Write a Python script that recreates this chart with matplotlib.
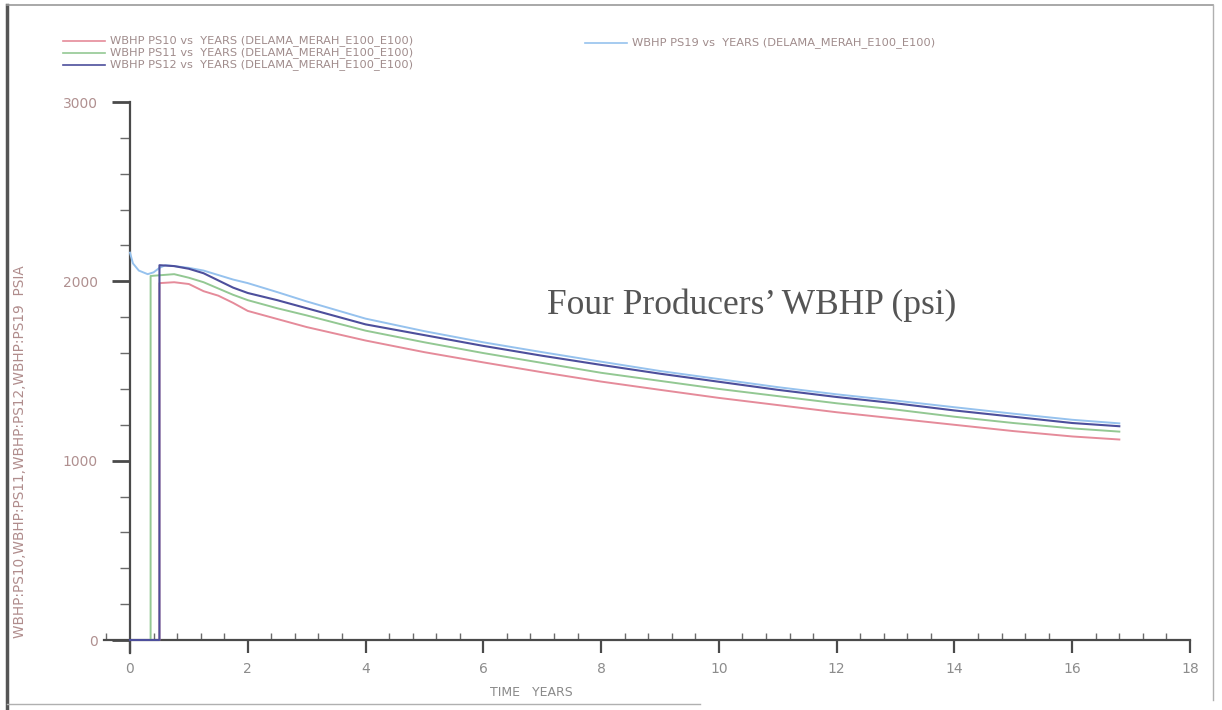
import matplotlib
matplotlib.use("Agg")
import matplotlib.pyplot as plt
from matplotlib.lines import Line2D
from matplotlib.ticker import MultipleLocator

# ---- dados ----
t_common = [0.75, 1.0, 1.25, 1.5, 1.75, 2.0, 2.5, 3.0, 4.0, 5.0, 6.0, 7.0, 8.0,
            9.0, 10.0, 11.0, 12.0, 13.0, 14.0, 15.0, 16.0, 16.8]

# PS10 (vermelho) - abre em 0.5 ano
ps10_start = 0.5
ps10_open = 1990
ps10 = [1995, 1985, 1945, 1920, 1880, 1835, 1790, 1745, 1670, 1605, 1548, 1493,
        1441, 1395, 1350, 1310, 1270, 1235, 1200, 1165, 1135, 1118]

# PS11 (verde) - abre em 0.35 ano
ps11_start = 0.35
ps11_open = 2030
ps11 = [2040, 2020, 1995, 1960, 1925, 1895, 1850, 1810, 1725, 1660, 1600, 1545,
        1490, 1445, 1400, 1360, 1320, 1285, 1245, 1210, 1180, 1162]

# PS12 (azul escuro) - abre em 0.5 ano
ps12_start = 0.5
ps12_open = 2090
ps12 = [2085, 2070, 2045, 2005, 1965, 1935, 1895, 1850, 1760, 1700, 1640, 1585,
        1534, 1485, 1440, 1395, 1355, 1320, 1280, 1245, 1210, 1192]

# PS19 (azul claro) - ja produzindo desde t=0
ps19_t0 = [0.0, 0.05, 0.15, 0.3, 0.4, 0.5, 0.6]
ps19_v0 = [2160, 2100, 2060, 2040, 2050, 2075, 2090]
ps19 = [2085, 2075, 2060, 2035, 2010, 1990, 1940, 1888, 1792, 1722, 1660, 1605,
        1552, 1500, 1455, 1410, 1370, 1335, 1298, 1262, 1228, 1208]

legend_labels = [
    "WBHP PS10 vs  YEARS (DELAMA_MERAH_E100_E100)",
    "WBHP PS11 vs  YEARS (DELAMA_MERAH_E100_E100)",
    "WBHP PS12 vs  YEARS (DELAMA_MERAH_E100_E100)",
    "WBHP PS19 vs  YEARS (DELAMA_MERAH_E100_E100)",
]
x_ticks = [0, 2, 4, 6, 8, 10, 12, 14, 16, 18]
y_ticks = [0, 1000, 2000, 3000]

c_red = "#e58b9a"
c_green = "#93c893"
c_navy = "#4d4f9c"
c_lblue = "#96c2ee"
c_axis = "#4a4a4a"
c_text = "#a08c8c"


def well_series(start, open_val, vals):
    # poco fechado (0 psi) ate abrir, depois salto vertical
    xs = [0.0, start, start] + t_common
    ys = [0.0, 0.0, open_val] + vals
    return xs, ys


W, H = 1222, 710
fig = plt.figure(figsize=(W / 100, H / 100), dpi=100)

# eixo: 0 em x=130px, 18 em 1190px ; 3000 em y=102px, 0 em y=640px
px_per_yr = (1190 - 130) / 18.0
px_per_psi = (640 - 102) / 3000.0
xmin, xmax = -0.45, 18.05
ymin, ymax = -70, 3000
left = 130 + xmin * px_per_yr
right = 130 + xmax * px_per_yr
top = 102
bottom = 640 - ymin * px_per_psi
ax = fig.add_axes([left / W, 1 - bottom / H, (right - left) / W, (bottom - top) / H])
ax.set_xlim(xmin, xmax)
ax.set_ylim(ymin, ymax)

x10, y10 = well_series(ps10_start, ps10_open, ps10)
x11, y11 = well_series(ps11_start, ps11_open, ps11)
x12, y12 = well_series(ps12_start, ps12_open, ps12)
x19 = ps19_t0 + t_common
y19 = ps19_v0 + ps19

ax.plot(x19, y19, color=c_lblue, lw=1.4, zorder=3)
ax.plot(x10, y10, color=c_red, lw=1.4, zorder=4)
ax.plot(x11, y11, color=c_green, lw=1.4, zorder=4)
ax.plot(x12, y12, color=c_navy, lw=1.5, zorder=5)

# eixos no estilo do simulador
for s in ["top", "right"]:
    ax.spines[s].set_visible(False)
ax.spines["left"].set_position(("data", 0))
ax.spines["bottom"].set_position(("data", 0))
ax.spines["left"].set_bounds(ymin, 3000)
ax.spines["bottom"].set_bounds(xmin, 18)
for s in ["left", "bottom"]:
    ax.spines[s].set_color(c_axis)
    ax.spines[s].set_linewidth(1.6)

ax.set_xticks(x_ticks)
ax.set_yticks(y_ticks)
ax.xaxis.set_minor_locator(MultipleLocator(0.4))
ax.yaxis.set_minor_locator(MultipleLocator(200))
ax.tick_params(axis="x", which="major", direction="out", length=9, width=1.6,
               color=c_axis, labelsize=10, labelcolor="#8c8c8c", pad=7)
ax.tick_params(axis="x", which="minor", direction="in", length=5, width=1.0,
               color="#6a6a6a")
ax.tick_params(axis="y", which="major", direction="out", length=13, width=2.0,
               color=c_axis, labelsize=10, labelcolor="#b09090", pad=10)
ax.tick_params(axis="y", which="minor", direction="out", length=7, width=1.0,
               color="#6a6a6a")
ax.set_facecolor("none")

fig.text(531 / W, 1 - 692 / H, "TIME   YEARS", fontsize=9, color="#8a8a8a",
         ha="center", va="center")
fig.text(20 / W, 1 - 452 / H, "WBHP:PS10,WBHP:PS11,WBHP:PS12,WBHP:PS19  PSIA",
         fontsize=9.8, color="#b08c8c", rotation=90, ha="center", va="center")

ax.text(10.55, 1868, "Four Producers\u2019 WBHP (psi)", family="Liberation Serif",
        fontsize=25.5, color="#555555", ha="center", va="center")

# legenda desenhada a mao como no original
leg_rows = [(41, c_red, legend_labels[0], 63),
            (53, c_green, legend_labels[1], 63),
            (65, c_navy, legend_labels[2], 63),
            (43, c_lblue, legend_labels[3], 585)]
for yy, col, lab, x0 in leg_rows:
    fig.add_artist(Line2D([x0 / W, (x0 + 42) / W], [1 - yy / H, 1 - yy / H],
                          color=col, lw=1.2))
    fig.text((x0 + 47) / W, 1 - yy / H, lab, fontsize=8.2, color=c_text,
             ha="left", va="center")

# moldura da imagem
fig.add_artist(Line2D([7 / W, 7 / W], [0, 1 - 5 / H], color="#555555", lw=2.5))
fig.add_artist(Line2D([7 / W, 1213 / W], [1 - 5 / H, 1 - 5 / H], color="#9a9a9a", lw=1.2))
fig.add_artist(Line2D([1213 / W, 1213 / W], [1 - 5 / H, 1 - 700 / H], color="#b0b0b0", lw=1.0))
fig.add_artist(Line2D([7 / W, 700 / W], [1 - 704 / H, 1 - 704 / H], color="#b0b0b0", lw=1.0))

fig.savefig("out.png", dpi=100)
